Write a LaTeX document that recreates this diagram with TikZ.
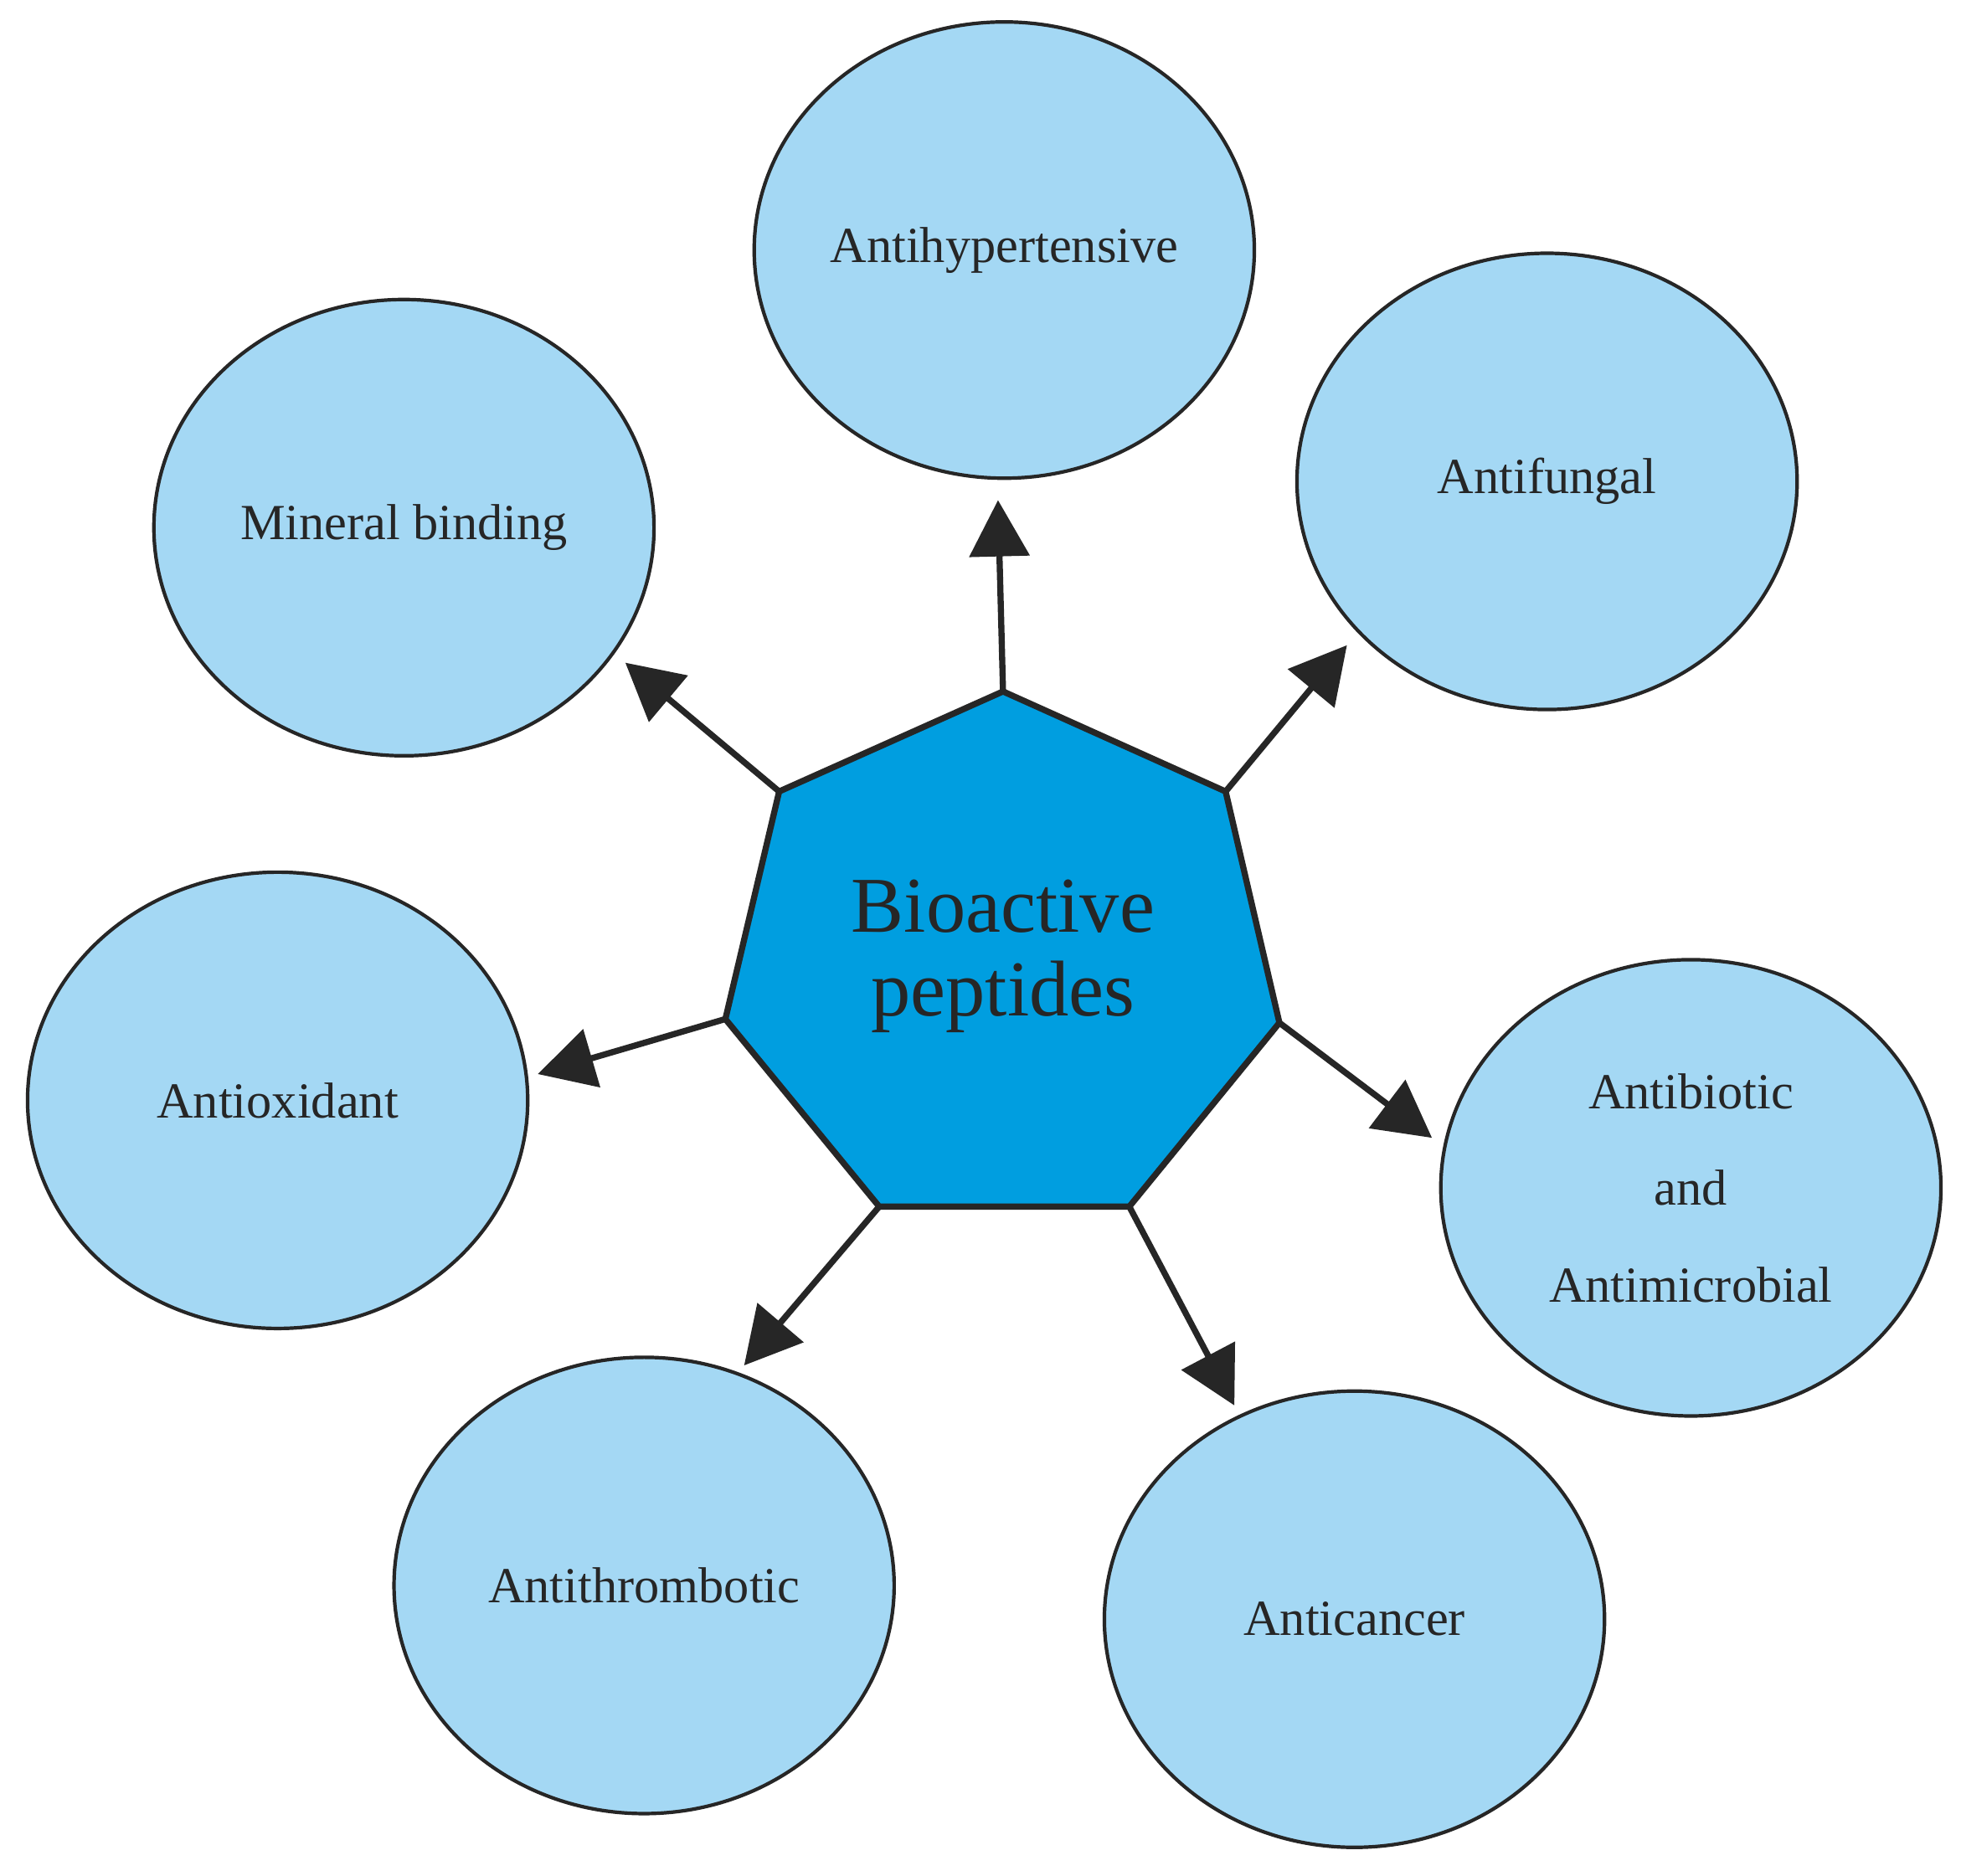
\documentclass[tikz,border=0pt]{standalone}
\usepackage{fontspec}
\setmainfont{Liberation Serif}
\usetikzlibrary{shapes.geometric,arrows.meta}
\definecolor{effect}{RGB}{164,216,244}
\definecolor{core}{RGB}{0,158,224}
\definecolor{ink}{RGB}{38,38,38}
\begin{document}
\begin{tikzpicture}[x=0.02cm,y=-0.02cm,
  effect/.style={ellipse,draw=ink,line width=1.6pt,fill=effect,inner sep=0pt,
    minimum width=8cm,minimum height=7.3cm,font=\fontsize{23}{44}\selectfont,
    text=ink,align=center},
  link/.style={draw=ink,line width=2.8pt,-{Triangle[length=0.9cm,width=0.95cm]}}]
\useasboundingbox (0,0) rectangle (1568,1500);
% effects
\node [effect] (hyper) at (803,200) {Antihypertensive};
\node [effect] (fung) at (1237,385) {Antifungal};
\node [effect] (mineral) at (323,422) {Mineral binding};
\node [effect] (oxid) at (222,880) {Antioxidant};
\node [effect] (biotic) at (1352,950) {Antibiotic\\and\\Antimicrobial};
\node [effect] (thromb) at (515,1268) {Antithrombotic};
\node [effect] (cancer) at (1083,1295) {Anticancer};
% heptagon corners
\coordinate (c1) at (802,553);
\coordinate (c2) at (980,633);
\coordinate (c3) at (1023,818);
\coordinate (c4) at (903,965);
\coordinate (c5) at (703,965);
\coordinate (c6) at (580,815);
\coordinate (c7) at (623,633);
\draw [draw=ink,line width=2.8pt,fill=core,line join=miter]
  (c1) -- (c2) -- (c3) -- (c4) -- (c5) -- (c6) -- (c7) -- cycle;
\node (bio) at (802,765) [align=center,text=ink,font=\fontsize{36}{38}\selectfont] {Bioactive\\peptides};
% arrow tips
\coordinate (t1) at (798,400);
\coordinate (t2) at (1077,516);
\coordinate (t3) at (500,530);
\coordinate (t4) at (430,859);
\coordinate (t5) at (1145,910);
\coordinate (t6) at (595,1092);
\coordinate (t7) at (987,1124);
\draw [link] (c1) -- (t1);
\draw [link] (c2) -- (t2);
\draw [link] (c7) -- (t3);
\draw [link] (c6) -- (t4);
\draw [link] (c3) -- (t5);
\draw [link] (c5) -- (t6);
\draw [link] (c4) -- (t7);
\end{tikzpicture}
\end{document}
